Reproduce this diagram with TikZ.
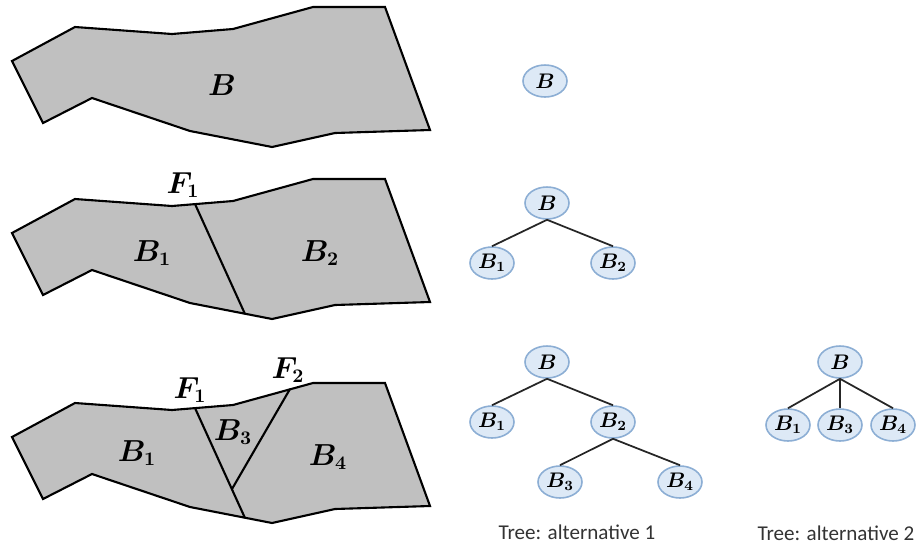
\documentclass[tikz,border=0pt]{standalone}
\usepackage{amsmath,amssymb}
\usepackage{fontspec}
\setmainfont{Carlito}
\usepackage{xcolor}
\usepackage{tikz}
\usetikzlibrary{shapes.geometric,positioning}

\definecolor{regionfill}{RGB}{192,192,192}
\definecolor{blobfill}{RGB}{221,233,246}
\definecolor{blobline}{RGB}{140,174,212}

\begin{document}
\begin{tikzpicture}[
    x=0.02cm, y=-0.02cm,
    region/.style={draw, fill=regionfill, line width=1.2pt},
    cut/.style={draw, line width=1.2pt},
    lbl/.style={font=\fontsize{16}{17}\selectfont\boldmath},
    blob/.style={ellipse, draw=blobline, fill=blobfill, line width=0.9pt, minimum width=0.88cm, minimum height=0.64cm, inner sep=0pt, font=\fontsize{12}{13}\selectfont\boldmath},
    link/.style={draw=black!85, line width=1pt},
    caption/.style={font=\fontsize{12}{14}\selectfont, text=black!80}
]
\useasboundingbox (0,0) rectangle (920,545);

% domain B
\draw[region] (12,61) -- (75,27) -- (172,34) -- (233,29) -- (313,7) -- (385,7) -- (430,130) -- (335,133) -- (272,147) -- (190,131) -- (92,98) -- (43,123) -- cycle;
\node[lbl] (bA) at (222,85) {$B$};

% one fracture
\begin{scope}[shift={(0,172)}]
\draw[region] (12,61) -- (75,27) -- (172,34) -- (233,29) -- (313,7) -- (385,7) -- (430,130) -- (335,133) -- (272,147) -- (190,131) -- (92,98) -- (43,123) -- cycle;
\draw[cut] (195,32) -- (245,142);
\node[lbl] (fB1) at (183,13) {$F_1$};
\node[lbl] (bB1) at (152,81) {$B_1$};
\node[lbl] (bB2) at (320,81) {$B_2$};
\end{scope}

% two fractures
\begin{scope}[shift={(0,376)}]
\draw[region] (12,61) -- (75,27) -- (172,34) -- (233,29) -- (313,7) -- (385,7) -- (430,130) -- (335,133) -- (272,147) -- (190,131) -- (92,98) -- (43,123) -- cycle;
\draw[cut] (195,32) -- (245,142);
\draw[cut] (290,13) -- (232,113);
\node[lbl] (fC1) at (190,14) {$F_1$};
\node[lbl] (fC2) at (288,-6) {$F_2$};
\node[lbl] (bC1) at (137,77) {$B_1$};
\node[lbl] (bC3) at (233,56) {$B_3$};
\node[lbl] (bC4) at (328,81) {$B_4$};
\end{scope}

% trees
\node[blob] (t0) at (545,81) {$B$};

\node[blob] (t1) at (547,203) {$B$};
\node[blob] (t1a) at (492,263) {$B_1$};
\node[blob] (t1b) at (613,263) {$B_2$};
\draw[link] (t1.south) -- (t1a.north);
\draw[link] (t1.south) -- (t1b.north);

\node[blob] (t2) at (547,362) {$B$};
\node[blob] (t2a) at (492,422) {$B_1$};
\node[blob] (t2b) at (613,422) {$B_2$};
\node[blob] (t2c) at (560,482) {$B_3$};
\node[blob] (t2d) at (680,482) {$B_4$};
\draw[link] (t2.south) -- (t2a.north);
\draw[link] (t2.south) -- (t2b.north);
\draw[link] (t2b.south) -- (t2c.north);
\draw[link] (t2b.south) -- (t2d.north);
\node[caption] (cap1) at (577,532) {Tree: alternative 1};

\node[blob] (t3) at (840,362) {$B$};
\node[blob] (t3a) at (788,425) {$B_1$};
\node[blob] (t3b) at (840,425) {$B_3$};
\node[blob] (t3c) at (893,425) {$B_4$};
\draw[link] (t3.south) -- (t3a.north);
\draw[link] (t3.south) -- (t3b.north);
\draw[link] (t3.south) -- (t3c.north);
\node[caption] (cap2) at (836,533) {Tree: alternative 2};

\end{tikzpicture}
\end{document}
